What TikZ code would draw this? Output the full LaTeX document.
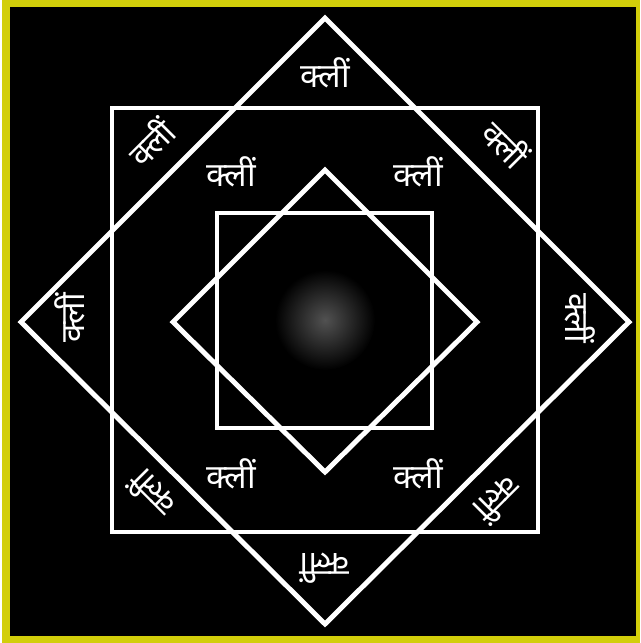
\documentclass[tikz,border=0pt]{standalone}
\usepackage{fontspec}
\newfontfamily\deva[Script=Devanagari]{Noto Sans}
\tikzset{
  wline/.style={draw=white, line width=3.7pt, line join=miter},
  mantra/.style={text=white, font=\deva\fontsize{25}{29}\selectfont, inner sep=0pt},
}
\begin{document}
\begin{tikzpicture}[x=0.75pt,y=-0.75pt]
\useasboundingbox (0,0) rectangle (640,643);
\fill[white] (0,0) rectangle (640,643);
\fill[fill={rgb,255:red,210;green,206;blue,10}] (2,0) rectangle (640,643);
\fill[black] (10,7) rectangle (636,636);
\shade[inner color=black!68!white, outer color=black] (325,320) circle (50);
% shapes
\draw[wline] (112,108) rectangle (538,532);
\draw[wline] (325,18) -- (629,322) -- (325,624) -- (21,322) -- cycle;
\draw[wline] (217,213) rectangle (432,428);
\draw[wline] (325,170) -- (477,322) -- (325,472) -- (173,322) -- cycle;
% outer ring of mantras
\node[mantra] (t)  at (325,73) {क्लीं};
\node[mantra, rotate=45] (ul) at (151,142) {क्लीं};
\node[mantra, rotate=-45] (ur) at (506,144) {क्लीं};
\node[mantra, rotate=90] (l) at (70,318) {क्लीं};
\node[mantra, rotate=-90] (r) at (580,318) {क्लीं};
\node[mantra, rotate=180] (b) at (325,568) {क्लीं};
\node[mantra, rotate=135] (ll) at (152,494) {क्लीं};
\node[mantra, rotate=-135] (lr) at (498,500) {क्लीं};
% inner mantras
\node[mantra] (i1) at (231,172) {क्लीं};
\node[mantra] (i2) at (418,172) {क्लीं};
\node[mantra] (i3) at (231,474) {क्लीं};
\node[mantra] (i4) at (418,474) {क्लीं};
\end{tikzpicture}
\end{document}
